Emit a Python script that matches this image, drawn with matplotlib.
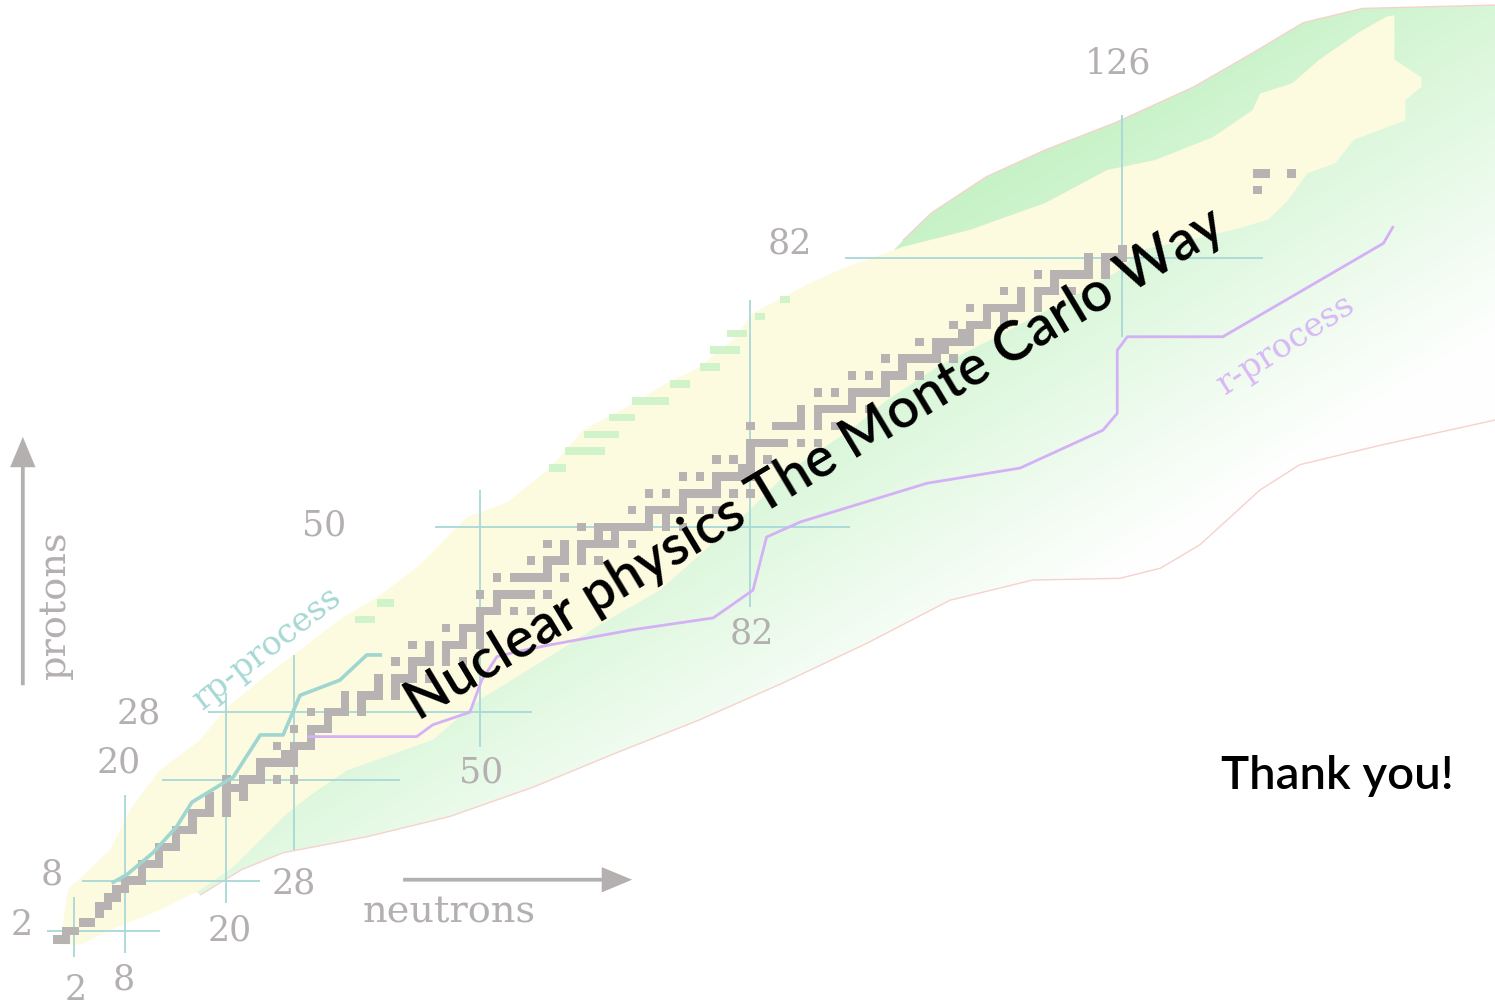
import numpy as np
import matplotlib.pyplot as plt
from matplotlib.patches import Polygon

# stable (and primordial) nuclides: neutron numbers for each proton number
stable_z = list(range(1, 84)) + [90, 92]
stable_n = [
    [0, 1], [1, 2], [3, 4], [5], [5, 6], [6, 7], [7, 8], [8, 9, 10], [10],
    [10, 11, 12], [12], [12, 13, 14], [14], [14, 15, 16], [16],
    [16, 17, 18, 20], [18, 20], [18, 20, 22], [20, 21, 22],
    [20, 22, 23, 24, 26, 28], [24], [24, 25, 26, 27, 28], [27, 28],
    [26, 28, 29, 30], [30], [28, 30, 31, 32], [32], [30, 32, 33, 34, 36],
    [34, 36], [34, 36, 37, 38, 40], [38, 40], [38, 40, 41, 42, 44], [42],
    [40, 42, 43, 44, 46, 48], [44, 46], [42, 44, 46, 47, 48, 50], [48, 50],
    [46, 48, 49, 50], [50], [50, 51, 52, 54, 56], [52],
    [50, 52, 53, 54, 55, 56, 58], [], [52, 54, 55, 56, 57, 58, 60], [58],
    [56, 58, 59, 60, 62, 64], [60, 62], [58, 60, 62, 63, 64, 65, 66, 68],
    [64, 66], [62, 64, 65, 66, 67, 68, 69, 70, 72, 74], [70, 72],
    [68, 70, 71, 72, 73, 74, 76, 78], [74],
    [70, 72, 74, 75, 76, 77, 78, 80, 82], [78],
    [74, 76, 78, 79, 80, 81, 82], [81, 82], [78, 80, 82, 84], [82],
    [82, 83, 84, 85, 86, 88, 90], [], [82, 85, 86, 87, 88, 90, 92], [88, 90],
    [88, 90, 91, 92, 93, 94, 96], [94], [90, 92, 94, 95, 96, 97, 98], [98],
    [94, 96, 98, 99, 100, 102], [100], [98, 100, 101, 102, 103, 104, 106],
    [104, 105], [102, 104, 105, 106, 107, 108], [107, 108],
    [106, 108, 109, 110, 112], [110, 112], [108, 110, 111, 112, 113, 114, 116],
    [114, 116], [112, 114, 116, 117, 118, 120], [118],
    [116, 118, 119, 120, 121, 122, 124], [122, 124], [122, 124, 125, 126],
    [126], [142], [142, 143, 146],
]

# outline of the known nuclides (N, Z)
known_n = [0.3, 1.2, 6.2, 8.6, 12.1, 16.9, 19.8, 24.0, 28.7, 33.4, 38.2, 42.9,
           48.5, 53.2, 58.3, 62.2, 68.2, 72.1, 76.0, 79.9, 82.3, 85.9, 89.1,
           93.4, 100.1, 108.0, 116.9, 124.2, 129.9, 136.7, 141.4, 142.3, 146.1,
           149.3, 153.9, 157.2, 158.2, 158.2, 161.4, 161.4, 159.5, 159.5, 156.3,
           153.4, 151.2, 147.9, 145.6, 143.3, 139.1, 134.0, 128.1, 125.7, 119.5,
           111.5, 104.4, 98.2, 93.8, 86.7, 81.9, 76.0, 71.3, 64.2, 59.5, 54.7,
           50.0, 44.4, 34.3, 30.3, 27.2, 24.0, 20.8, 16.9, 12.1, 6.2, 2.7]
known_z = [0.4, 6.9, 11.6, 16.4, 21.1, 24.7, 28.3, 31.8, 35.4, 39.0, 41.9, 45.5,
           51.2, 52.9, 57.0, 61.5, 64.7, 67.1, 69.0, 72.2, 75.4, 77.3, 79.0,
           80.9, 83.3, 85.3, 88.5, 92.4, 93.6, 96.3, 99.5, 101.5, 102.7,
           105.5, 108.7, 110.6, 110.8, 105.5, 103.4, 102.3, 100.7, 98.3, 97.1,
           96.0, 93.2, 92.0, 88.8, 86.5, 85.3, 84.1, 82.9, 80.5, 77.0,
           72.8, 69.2, 65.1, 61.5, 56.8, 52.0, 46.7, 42.5, 38.4, 35.4, 32.4,
           29.5, 24.7, 21.1, 18.4, 16.0, 12.8, 9.6, 6.9, 4.5, 2.1, 0.4]

# isolated proton-rich nuclides beyond the main block
rich_n = [73.7, 70.2, 66.8, 64.4, 62.4, 59.2, 86.1, 83.1, 80.4, 79.0, 77.2, 38.8, 36.4]
rich_z = [67, 65, 63, 61, 59, 57, 77, 75, 73, 71, 69, 41, 39]
rich_w = [2.4, 4.4, 3.0, 4.1, 4.7, 2.0, 1.2, 1.2, 2.4, 3.5, 2.4, 2.0, 2.4]

# predicted region (terra incognita): outer edges and a return path through the known block
upper_n = [100.1, 103.4, 109.9, 116.9, 125.1, 134.5, 141.4, 147.4, 154.4, 170.1]
upper_z = [84.1, 87.3, 91.6, 94.8, 98.0, 102.3, 106.3, 109.9, 111.6, 112.0]
lower_n = [170.1, 156.5, 147.0, 142.3, 135.2, 130.5, 125.7, 115.4, 105.6, 95.8,
           85.9, 76.0, 66.2, 56.3, 46.4, 36.6, 26.7, 21.8, 16.9]
lower_z = [62.7, 59.7, 57.4, 54.4, 47.9, 45.1, 43.9, 43.7, 41.3, 36.2,
           31.5, 27.1, 23.2, 19.1, 15.6, 13.2, 11.3, 9.3, 6.3]
inner_n = [11.0, 28.7, 58.3, 87.9]
inner_z = [10.5, 27.1, 48.5, 71.0]

# magic numbers and the extent of their guide lines
magic = [2, 8, 20, 28, 50, 82, 126]
vline_lo = [-1.1, -0.6, 5.3, 11.6, 23.9, 40.5, 72.6]
vline_hi = [6.1, 18.2, 30.3, 34.8, 54.4, 77.0, 98.9]
hline_lo = [-1.2, 2.9, 12.4, 17.8, 44.7, 93.2]
hline_hi = [12.1, 24.0, 40.5, 56.2, 93.8, 142.6]

# rp-process and r-process paths
rp_n = [6.6, 8.2, 11.3, 14.1, 15.9, 20.8, 24.0, 26.7, 28.7, 33.4, 36.6, 38.2]
rp_z = [7.8, 8.7, 11.3, 14.4, 17.3, 20.3, 25.3, 25.3, 30.0, 31.8, 34.8, 34.8]
r_n = [29.7, 42.5, 44.4, 48.8, 50.2, 52.0, 54.4, 58.3, 68.1, 77.6, 82.3, 83.9,
       87.9, 102.9, 113.9, 123.7, 125.4, 125.4, 126.6, 137.9, 156.9, 158.0]
r_z = [25.1, 25.1, 26.5, 28.0, 31.8, 34.6, 35.2, 36.0, 37.8, 39.2, 42.5, 48.8,
       50.6, 55.2, 57.0, 61.5, 63.5, 71.0, 72.6, 72.6, 83.7, 85.6]

n_labels = ['2', '8', '20', '28', '50', '82', '126']
z_labels = ['2', '8', '20', '28', '50', '82']
n_label_pos = [(2.1, -5.0), (7.9, -3.8), (20.4, 2.1), (28.0, 7.6),
               (50.1, 20.8), (82.2, 37.4), (125.5, 105.1)]
z_label_pos = [(-4.2, 2.7), (-0.65, 8.7), (7.3, 22.0), (9.6, 27.9),
               (31.5, 50.2), (86.6, 83.7)]

gray = '#b5b0b0'
xlim = (-6.8, 170.1)
ylim = (-6.9, 112.6)

fig = plt.figure(figsize=(14.95, 10.06), dpi=100)
ax = fig.add_axes([0, 0, 1, 1])

# green predicted region, fading towards the neutron-rich side
region = Polygon(np.column_stack([upper_n + lower_n + inner_n,
                                  upper_z + lower_z + inner_z]),
                 closed=True, facecolor='none', edgecolor='none')
ax.add_patch(region)
nn, zz = np.meshgrid(np.linspace(*xlim, 600), np.linspace(*ylim, 400))
fade = np.clip((29 - (0.53 * nn - 0.85 * zz)) / 48, 0.02, 1)
rgb = 1 - fade[..., None] * (1 - np.array([0.78, 0.95, 0.78]))
im = ax.imshow(rgb, extent=(*xlim, *ylim), origin='lower', aspect='auto',
               interpolation='bilinear', zorder=1)
im.set_clip_path(region)
ax.plot(upper_n, upper_z, color='#f6d2cc', lw=1.0, zorder=1.5)
ax.plot(lower_n, lower_z, color='#f6d2cc', lw=1.0, zorder=1.5)

# known nuclides
ax.fill(known_n, known_z, color='#fcfadf', lw=0, zorder=2)
rich_left = [n - w / 2 for n, w in zip(rich_n, rich_w)]
ax.barh(rich_z, rich_w, left=rich_left, height=0.9, color='#d0f3ca', lw=0, zorder=2.5)

# magic number lines
ax.vlines(magic, vline_lo, vline_hi, color='#a8d8d8', lw=1.3, zorder=3)
ax.hlines(magic[:-1], hline_lo, hline_hi, color='#a8d8d8', lw=1.3, zorder=3)

# stable nuclides, one cell each
sn, sz = [], []
for z, ns in zip(stable_z, stable_n):
    for n in ns:
        sn.append(n)
        sz.append(z - 0.5)
ax.bar(sn, 1.0, width=1.0, bottom=sz, color='#b8b3b3', lw=0, zorder=4)

# process paths
ax.plot(rp_n, rp_z, color='#9fd6d0', lw=2.6, zorder=5, solid_joinstyle='round')
ax.plot(r_n, r_z, color='#d4b0f6', lw=2.0, zorder=5, solid_joinstyle='round')
ax.text(24.9, 35.6, 'rp-process', color='#a6d8d4', fontsize=24, family='DejaVu Serif',
        rotation=38, ha='center', va='center', zorder=6)
ax.text(145.4, 71.6, 'r-process', color='#d8b8f6', fontsize=24, family='DejaVu Serif',
        rotation=33, ha='center', va='center', zorder=6)

# axis arrows and magic number labels
ax.arrow(40.9, 8.1, 27.1, 0, width=0.45, head_width=3.0, head_length=3.6,
         length_includes_head=True, color=gray, lw=0, zorder=6)
ax.arrow(-4.1, 31.2, 0, 29.5, width=0.45, head_width=3.0, head_length=3.6,
         length_includes_head=True, color=gray, lw=0, zorder=6)
ax.text(46.4, 4.2, 'neutrons', color=gray, fontsize=27.5, family='DejaVu Serif',
        ha='center', va='center', zorder=6)
ax.text(-0.3, 40.8, 'protons', color=gray, fontsize=27.5, family='DejaVu Serif',
        rotation=90, ha='center', va='center', zorder=6)
for lab, (x, y) in zip(n_labels, n_label_pos):
    ax.text(x, y, lab, color=gray, fontsize=25, family='DejaVu Serif',
            ha='center', va='center', zorder=6)
for lab, (x, y) in zip(z_labels, z_label_pos):
    ax.text(x, y, lab, color=gray, fontsize=25, family='DejaVu Serif',
            ha='center', va='center', zorder=6)

# titles
ax.text(90.6, 55.8, 'Nuclear physics The Monte Carlo Way', fontsize=40,
        family=['Lato', 'DejaVu Sans'], weight='semibold', rotation=31,
        rotation_mode='anchor', ha='center', va='baseline', zorder=7)
ax.text(151.4, 18.9, 'Thank you!', fontsize=34, family=['Lato', 'DejaVu Sans'],
        weight='semibold', ha='center', va='baseline', zorder=7)

ax.set_xlim(*xlim)
ax.set_ylim(*ylim)
ax.axis('off')
fig.savefig('out.png', dpi=100, facecolor='white')
